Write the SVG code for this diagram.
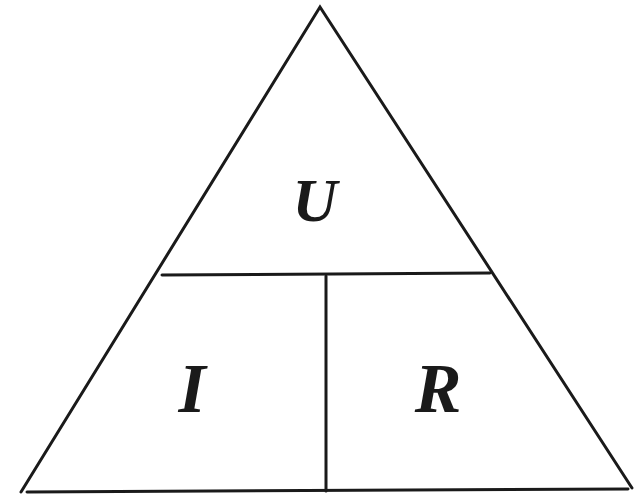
<svg xmlns="http://www.w3.org/2000/svg" width="644" height="498" viewBox="0 0 644 498">
<style>
.ln{stroke:#1a1a1a;stroke-width:3;fill:none;stroke-linecap:round;stroke-linejoin:miter}
.lb{font-family:"Liberation Serif","Times New Roman",serif;font-style:italic;font-weight:bold;fill:#1a1a1a;text-anchor:middle}
</style>
<rect width="644" height="498" fill="#fff"/>
<g id="connectors">
<polyline class="ln" points="21,492 320,7 632,488"/>
<line class="ln" x1="27" y1="492" x2="628" y2="489"/>
<line class="ln" x1="162" y1="275" x2="490" y2="273"/>
<line class="ln" x1="326" y1="276" x2="326" y2="491"/>
</g>
<g id="node-U"><text class="lb" x="315" y="221" font-size="62">U</text></g>
<g id="node-I"><text class="lb" x="192" y="412" font-size="70">I</text></g>
<g id="node-R"><text class="lb" x="438" y="412" font-size="70">R</text></g>
</svg>
